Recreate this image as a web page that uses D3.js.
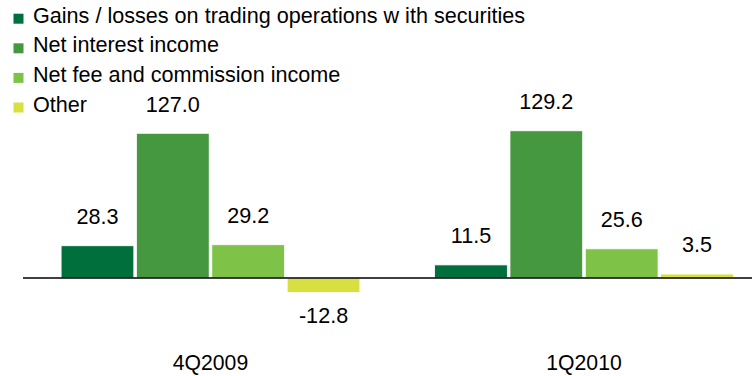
<!DOCTYPE html>
<html>
<head>
<meta charset="utf-8">
<script src="https://cdn.jsdelivr.net/npm/d3@7"></script>
<style>
  html, body { margin: 0; padding: 0; background: #fff; }
  svg { display: block; }
  text { font-family: "Liberation Sans", Arial, sans-serif; fill: #000; }
</style>
</head>
<body>
<svg id="chart" width="752" height="376"></svg>
<script>
// Quarterly income breakdown
const periods = ["4Q2009", "1Q2010"];
const seriesNames = [
  "Gains / losses on trading operations w ith securities",
  "Net interest income",
  "Net fee and commission income",
  "Other"
];
const seriesColors = ["#006f3c", "#45983f", "#7ec247", "#d8e040"];
const gains = [28.3, 11.5];
const interest = [127.0, 129.2];
const fees = [29.2, 25.6];
const other = [-12.8, 3.5];

const seriesValues = [gains, interest, fees, other];

const svg = d3.select("#chart");
const fontSize = 21.6;

// Scales
const x0 = d3.scaleBand()
  .domain(periods)
  .range([23, 771.5])
  .paddingInner(0.2)
  .paddingOuter(0.102);

const x1 = d3.scaleBand()
  .domain(d3.range(seriesNames.length))
  .range([0, x0.bandwidth()])
  .paddingInner(0.035)
  .paddingOuter(0);

const y = d3.scaleLinear()
  .domain([0, 127])
  .range([278, 133.3]);

// Bars
const groups = svg.append("g")
  .selectAll("g")
  .data(periods)
  .join("g")
  .attr("transform", d => `translate(${x0(d)},0)`);

groups.selectAll("rect")
  .data((p, pi) => seriesValues.map((vals, si) => ({ si, v: vals[pi] })))
  .join("rect")
  .attr("x", d => x1(d.si))
  .attr("width", x1.bandwidth())
  .attr("y", d => y(Math.max(0, d.v)))
  .attr("height", d => Math.abs(y(d.v) - y(0)))
  .attr("fill", d => seriesColors[d.si])
  .attr("stroke", "#ffffff")
  .attr("stroke-width", 0.8);

// Value labels
groups.selectAll("text.val")
  .data((p, pi) => seriesValues.map((vals, si) => ({ si, v: vals[pi] })))
  .join("text")
  .attr("class", "val")
  .attr("x", d => x1(d.si) + x1.bandwidth() / 2)
  .attr("y", d => d.v >= 0 ? y(d.v) - 21.7 : y(d.v) + 30.7)
  .attr("text-anchor", "middle")
  .style("font-size", fontSize + "px")
  .text(d => d.v.toFixed(1));

// Zero line
svg.append("line")
  .attr("x1", 23).attr("x2", 752)
  .attr("y1", y(0)).attr("y2", y(0))
  .attr("stroke", "#000")
  .attr("stroke-width", 1.6);

// Category labels
svg.append("g")
  .selectAll("text")
  .data(periods)
  .join("text")
  .attr("x", d => x0(d) + x0.bandwidth() / 2)
  .attr("y", 370)
  .attr("text-anchor", "middle")
  .style("font-size", "21.2px")
  .text(d => d);

// Legend
const legend = svg.append("g")
  .selectAll("g")
  .data(seriesNames)
  .join("g")
  .attr("transform", (d, i) => `translate(0,${22.7 + i * 29.6})`);

legend.append("rect")
  .attr("x", 13.5)
  .attr("y", -9)
  .attr("width", 10)
  .attr("height", 10)
  .attr("fill", (d, i) => seriesColors[i]);

legend.append("text")
  .attr("x", 33)
  .attr("y", 0)
  .style("font-size", fontSize + "px")
  .text(d => d);
</script>
</body>
</html>
